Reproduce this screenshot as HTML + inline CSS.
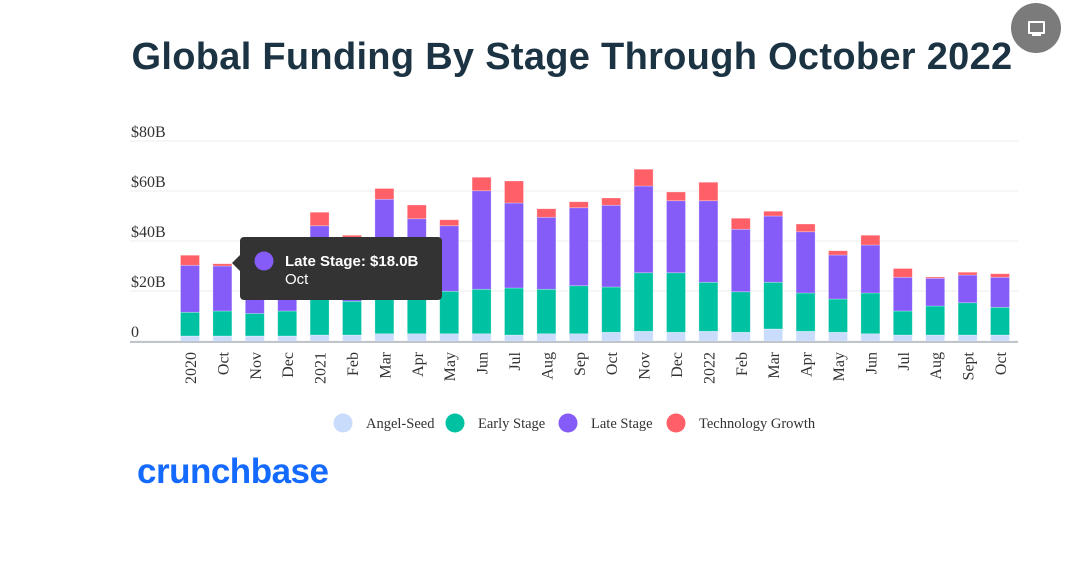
<!DOCTYPE html>
<html><head><meta charset="utf-8"><style>
body{margin:0;background:#fff;width:1082px;height:570px;overflow:hidden;position:relative;font-family:"Liberation Sans",sans-serif}
#title{position:absolute;left:0;width:1144px;top:36px;text-align:center;font-size:38px;font-weight:bold;color:#1b3342;letter-spacing:0.3px}
#logo{position:absolute;left:137px;top:452px;font-size:35px;color:#146aff;font-weight:bold;letter-spacing:-0.5px}
</style></head><body>
<div id="title">Global Funding By Stage Through October 2022</div>
<div id="present-btn" style="position:absolute;left:1011px;top:3px;width:50px;height:50px;border-radius:50%;background:#7b7b7b">
<div style="position:absolute;left:17px;top:18px;width:13px;height:9px;border:2px solid #fff;border-radius:1px"></div>
<div style="position:absolute;left:21px;top:31px;width:9px;height:2px;background:#fff"></div></div>
<svg id="chart" width="1082" height="570" style="position:absolute;left:0;top:0"></svg>
<div id="logo">crunchbase</div>
<script>
const categories=["2020","Oct","Nov","Dec","2021","Feb","Mar","Apr","May","Jun","Jul","Aug","Sep","Oct","Nov","Dec","2022","Feb","Mar","Apr","May","Jun","Jul","Aug","Sept","Oct"];
const angelSeed=[2,2,2,2,2.4,2.4,2.9,2.9,2.9,2.9,2.4,2.9,2.9,3.5,3.9,3.5,3.9,3.5,4.8,3.9,3.5,2.9,2.4,2.4,2.4,2.4];
const earlyStage=[9.5,10,9,10,17.6,13.5,15.1,15.1,17,17.8,18.8,17.8,19.2,18.1,23.4,23.8,19.6,16.2,18.7,15.3,13.3,16.3,9.6,11.6,12.9,11.1];
const lateStage=[18.8,18,18,22,26.1,25.6,38.7,30.9,26.2,39.4,34,28.8,31.2,32.7,34.7,28.8,32.6,25,26.5,24.5,17.6,19.2,13.5,11.1,11.1,12];
const techGrowth=[4,0.9,1,2,5.4,0.8,4.3,5.5,2.4,5.4,8.8,3.4,2.4,2.9,6.7,3.5,7.4,4.4,1.9,3.1,1.7,3.9,3.5,0.5,1.1,1.4];
const yTicks=[0,20,40,60,80];
const yTickLabels=["0","$20B","$40B","$60B","$80B"];
const seriesNames=["Angel-Seed","Early Stage","Late Stage","Technology Growth"];
const seriesColors=["#c9dcfb","#00c2a2","#865cf9","#ff5f66"];
const NS="http://www.w3.org/2000/svg";
const svg=document.getElementById('chart');
const y0=341,pxPer=2.5,x0=190,step=32.4,bw=19;
function yScale(v){return y0-v*pxPer;}
function xScale(i){return x0+i*step;}
function mk(t,a,p){const e=document.createElementNS(NS,t);for(const k in a)e.setAttribute(k,a[k]);(p||svg).appendChild(e);return e;}
yTicks.forEach((t,i)=>{
  const g=mk('line',{x1:130,x2:1018,y1:yScale(t),y2:yScale(t),stroke:'#eeeeee','stroke-width':1});
  
  
  const l=mk('text',{x:131,y:yScale(t)-4,'font-family':'Liberation Serif,serif','font-size':16,fill:'#333'});
  l.textContent=yTickLabels[i];
  
  
});
const series=[angelSeed,earlyStage,lateStage,techGrowth];
categories.forEach((c,i)=>{
  let cum=0;
  series.forEach((s,k)=>{
    const v=s[i];
    const r=mk('rect',{x:xScale(i)-bw/2,y:yScale(cum+v),width:bw,height:v*pxPer,fill:seriesColors[k],stroke:'#fff','stroke-opacity':0.4,'stroke-width':0.7});
    
    
    cum+=v;
  });
  const t=mk('text',{x:0,y:0,transform:`translate(${xScale(i)+6},352) rotate(-90)`,'text-anchor':'end','font-family':'Liberation Serif,serif','font-size':16,fill:'#333'});
  t.textContent=c;
  
  
});
const ax=mk('line',{x1:130,x2:1018,y1:342,y2:342,stroke:'#c0c5cc','stroke-width':2});


const lx=[343,455,568,676];
seriesNames.forEach((n,k)=>{
  const c=mk('circle',{cx:lx[k],cy:423,r:9.5,fill:seriesColors[k]});
  
  
  const t=mk('text',{x:lx[k]+23,y:428,'font-family':'Liberation Serif,serif','font-size':14.5,fill:'#333'});
  t.textContent=n;
  
  
});
// tooltip
const tg=mk('g',{});


mk('rect',{x:240,y:237,width:202,height:63,rx:4,fill:'#333333'},tg);
mk('path',{d:'M240 255 L232 263 L240 271 Z',fill:'#333333'},tg);
mk('circle',{cx:264,cy:261,r:9.5,fill:'#865cf9'},tg);
const t1=mk('text',{x:285,y:266,'font-family':'Liberation Sans,sans-serif','font-size':15,'font-weight':'bold',fill:'#fff'},tg);
t1.textContent='Late Stage: $18.0B';
const t2=mk('text',{x:285,y:284,'font-family':'Liberation Sans,sans-serif','font-size':15,fill:'#fff'},tg);
t2.textContent='Oct';
</script>
</body></html>
